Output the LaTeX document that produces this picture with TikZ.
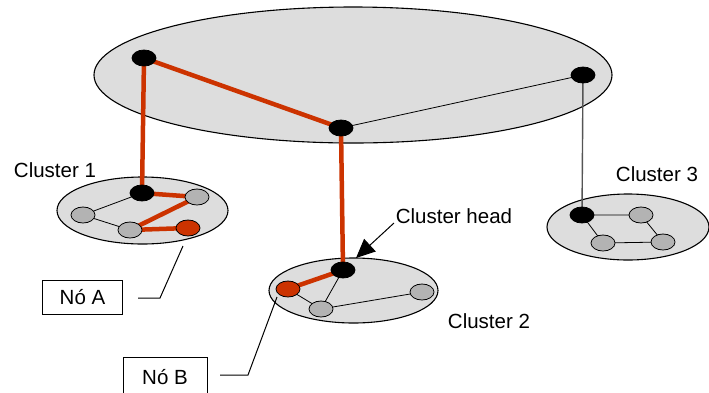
\documentclass[tikz,border=0pt]{standalone}
\usepackage{fontspec}
\setmainfont{Liberation Sans}
\usetikzlibrary{shapes.geometric,arrows.meta}
\definecolor{areagray}{HTML}{DDDDDD}
\definecolor{membergray}{HTML}{B3B3B3}
\definecolor{routered}{HTML}{CC3300}
\definecolor{uplinkgray}{HTML}{555555}
\tikzset{
  area/.style={ellipse, draw=black, line width=1.1pt, fill=areagray, inner sep=0pt},
  headnode/.style={ellipse, draw=black, line width=0.8pt, fill=black, minimum width=24pt, minimum height=16pt, inner sep=0pt},
  member/.style={ellipse, draw=black, line width=0.8pt, fill=membergray, minimum width=24pt, minimum height=16pt, inner sep=0pt},
  target/.style={member, fill=routered},
  link/.style={line width=0.8pt},
  route/.style={line width=4.5pt, routered},
  uplink/.style={line width=1.4pt, uplinkgray},
  caption/.style={font=\fontsize{20.5}{24}\selectfont, inner sep=0pt},
  tagbox/.style={draw=black, line width=1pt, font=\fontsize{20.5}{24}\selectfont, inner sep=0pt}
}
\begin{document}
\begin{tikzpicture}[x=1pt,y=-1pt]
\useasboundingbox (0,0) rectangle (709,392);
\clip (0,0) rectangle (709,392);
\fill[white] (0,0) rectangle (709,392);

% cluster areas
\node[area, minimum width=518pt, minimum height=136pt] (top) at (353,75) {};
\node[area, minimum width=171pt, minimum height=67pt] (cl1) at (142.5,210.5) {};
\node[area, minimum width=169pt, minimum height=65pt] (cl2) at (353.5,290.5) {};
\node[area, minimum width=162pt, minimum height=66pt] (cl3) at (628,227) {};

% backbone nodes
\coordinate (tA) at (144,58);
\coordinate (tB) at (341,128);
\coordinate (tC) at (583,75);

% cluster 1 nodes
\coordinate (h1) at (142,193);
\coordinate (p1) at (197,197);
\coordinate (q1) at (83,215);
\coordinate (r1) at (130,230);
\coordinate (s1) at (188,228);

% cluster 2 nodes
\coordinate (h2) at (343,270);
\coordinate (p2) at (288,289);
\coordinate (q2) at (321,309);
\coordinate (r2) at (422,292);

% cluster 3 nodes
\coordinate (h3) at (582,215);
\coordinate (p3) at (641,215);
\coordinate (q3) at (603,243);
\coordinate (r3) at (663,242);

% links
\draw[link] (tB) -- (tC);
\draw[link] (h1) -- (q1) -- (r1);
\draw[link] (p2) -- (q2) -- (h2);
\draw[link] (q2) -- (r2);
\draw[link] (h3) -- (p3) -- (r3) -- (q3) -- (h3);
\draw[uplink] (tC) -- (h3);

% routed path
\draw[route] (tA) -- (tB);
\draw[route] (tA) -- (h1);
\draw[route] (tB) -- (h2);
\draw[route, line join=round] (h1) -- (p1) -- (r1) -- (s1);
\draw[route] (h2) -- (p2);

% node markers
\node[headnode] (nA) at (tA) {};
\node[headnode] (nB) at (tB) {};
\node[headnode] (nC) at (tC) {};
\node[headnode] (n1h) at (h1) {};
\node[member] (n1p) at (p1) {};
\node[member] (n1q) at (q1) {};
\node[member] (n1r) at (r1) {};
\node[target] (n1s) at (s1) {};
\node[headnode] (n2h) at (h2) {};
\node[target] (n2p) at (p2) {};
\node[member] (n2q) at (q2) {};
\node[member] (n2r) at (r2) {};
\node[headnode] (n3h) at (h3) {};
\node[member] (n3p) at (p3) {};
\node[member] (n3q) at (q3) {};
\node[member] (n3r) at (r3) {};

% captions
\node[caption] (lab1) at (55,170) {Cluster 1};
\node[caption] (lab2) at (489,321) {Cluster 2};
\node[caption] (lab3) at (657,174) {Cluster 3};
\node[caption] (labh) at (454,216) {Cluster head};

% cluster head pointer
\coordinate (hstart) at (394,223);
\coordinate (htip) at (356,258);
\draw[line width=1pt, -{Triangle[length=19pt,width=17pt]}] (hstart) -- (htip);

% node tags
\node[tagbox, minimum width=80pt, minimum height=34pt] (tagA) at (82.5,297) {Nó A};
\node[tagbox, minimum width=84pt, minimum height=40pt] (tagB) at (165,377) {Nó B};
\coordinate (a1) at (138,298);
\coordinate (a2) at (160,298);
\coordinate (a3) at (183,246);
\draw[line width=1pt] (a1) -- (a2) -- (a3);
\coordinate (b1) at (220,375);
\coordinate (b2) at (248,375);
\coordinate (b3) at (277,297);
\draw[line width=1pt] (b1) -- (b2) -- (b3);
\end{tikzpicture}
\end{document}
